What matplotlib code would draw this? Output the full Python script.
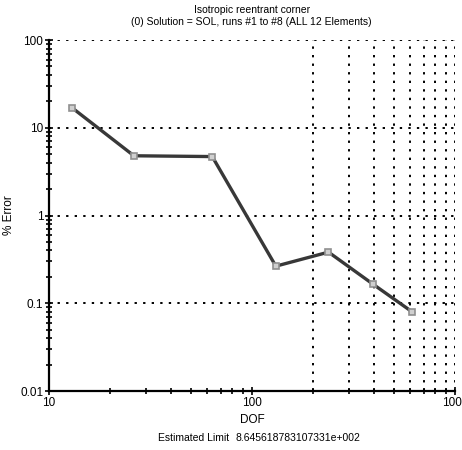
import matplotlib
matplotlib.use('Agg')
import matplotlib.pyplot as plt
from matplotlib.ticker import LogLocator, NullFormatter

plt.rcParams['font.family'] = ['Liberation Sans Narrow', 'Liberation Sans', 'DejaVu Sans']

# data
dof = [13.0, 26.2, 63.7, 131, 238, 396, 616]
err = [16.9, 4.8, 4.7, 0.265, 0.383, 0.164, 0.0796]
xticks = [10, 100, 1000]
xtick_labels = ['10', '100', '1000']
yticks = [0.01, 0.1, 1, 10, 100]
ytick_labels = ['0.01', '0.1', '1', '10', '100']
vgrid = [200, 300, 400, 500, 600, 700, 800, 900, 1000]
hgrid = [0.1, 1, 10, 100]

fig = plt.figure(figsize=(4.62, 4.5), dpi=100)
ax = fig.add_axes([0.106, 0.131, 0.879, 0.78])

dots = (0, (1.2, 3.2))
for v in vgrid:
    ax.axvline(v, color='black', lw=1.4, ls=dots, zorder=1)
for h in hgrid:
    ax.axhline(h, color='black', lw=1.4, ls=dots, zorder=1)

ax.plot(dof, err, color='#383838', lw=2.4, marker='s', ms=5,
        mfc='#d0d0d0', mec='#909090', mew=1.2, zorder=3)

ax.set_xscale('log')
ax.set_yscale('log')
ax.set_xlim(10, 1000)
ax.set_ylim(0.01, 100)
ax.set_xticks(xticks)
ax.set_xticklabels(xtick_labels)
ax.set_yticks(yticks)
ax.set_yticklabels(ytick_labels)
ax.xaxis.set_minor_locator(LogLocator(base=10, subs=range(2, 10)))
ax.yaxis.set_minor_locator(LogLocator(base=10, subs=range(2, 10)))
ax.xaxis.set_minor_formatter(NullFormatter())
ax.yaxis.set_minor_formatter(NullFormatter())
ax.tick_params(which='major', direction='inout', length=6, width=1.2, labelsize=8.5, pad=1)
ax.tick_params(which='minor', direction='inout', length=4, width=1.2)

for s in ['top', 'right']:
    ax.spines[s].set_visible(False)
for s in ['left', 'bottom']:
    ax.spines[s].set_linewidth(1.6)

ax.set_xlabel('DOF', fontsize=8.5, labelpad=4)
ax.set_ylabel('% Error', fontsize=8.5, labelpad=4)

fig.text(0.545, 0.977, 'Isotropic reentrant corner', ha='center', va='center', fontsize=7.5)
fig.text(0.545, 0.952, '(0) Solution = SOL, runs #1 to #8 (ALL 12 Elements)', ha='center', va='center', fontsize=7.5)
fig.text(0.342, 0.027, 'Estimated Limit', ha='left', va='center', fontsize=7.5)
fig.text(0.51, 0.027, '8.645618783107331e+002', ha='left', va='center', fontsize=7.5)

fig.savefig('out.png', dpi=100)
